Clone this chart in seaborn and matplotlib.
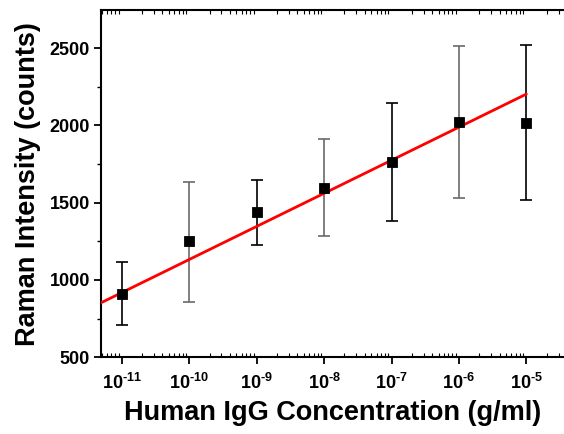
import numpy as np
import matplotlib
matplotlib.use("Agg")
import matplotlib.pyplot as plt
import seaborn as sns
from matplotlib.ticker import LogLocator, MultipleLocator, NullFormatter

# Veri
concentration = [1e-11, 1e-10, 1e-9, 1e-8, 1e-7, 1e-6, 1e-5]
intensity = [908, 1250, 1440, 1597, 1762, 2024, 2016]
err_low = [710, 860, 1228, 1282, 1378, 1532, 1515]
err_high = [1115, 1635, 1645, 1911, 2147, 2515, 2518]
bar_colors = ["black", "dimgray", "black", "dimgray", "black", "dimgray", "black"]

# Doğrusal fit: y = a + b*log10(x)
fit_a = 3272
fit_b = 214
fit_range = [10 ** -11.31, 1e-5]

x_ticks = [1e-11, 1e-10, 1e-9, 1e-8, 1e-7, 1e-6, 1e-5]
x_labels = [r"$\mathbf{10^{\text{-}11}}$", r"$\mathbf{10^{\text{-}10}}$", r"$\mathbf{10^{\text{-}9}}$",
            r"$\mathbf{10^{\text{-}8}}$", r"$\mathbf{10^{\text{-}7}}$", r"$\mathbf{10^{\text{-}6}}$",
            r"$\mathbf{10^{\text{-}5}}$"]
y_ticks = [500, 1000, 1500, 2000, 2500]

sns.set_style("white")
plt.rcParams["font.family"] = ["Liberation Sans", "DejaVu Sans"]
plt.rcParams["font.weight"] = "bold"
plt.rcParams["text.color"] = "black"
plt.rcParams["xtick.color"] = "black"
plt.rcParams["ytick.color"] = "black"
plt.rcParams["axes.labelcolor"] = "black"
plt.rcParams["mathtext.fontset"] = "custom"
plt.rcParams["mathtext.rm"] = "Liberation Sans:bold"
plt.rcParams["mathtext.bf"] = "Liberation Sans:bold"

fig = plt.figure(figsize=(5.64, 4.34), dpi=100)
ax = fig.add_axes([0.179, 0.177, 0.82, 0.8])

# Hata çubukları
for xi, yi, lo, hi, c in zip(concentration, intensity, err_low, err_high, bar_colors):
    ax.errorbar([xi], [yi], yerr=[[yi - lo], [hi - yi]], fmt="none",
                ecolor=c, elinewidth=1.2, capsize=4, capthick=1.2, zorder=2)

# Fit çizgisi
fit_x = np.logspace(np.log10(fit_range[0]), np.log10(fit_range[1]), 50)
fit_y = fit_a + fit_b * np.log10(fit_x)
sns.lineplot(x=fit_x, y=fit_y, color="red", linewidth=2, ax=ax, zorder=3)

# Noktalar
sns.scatterplot(x=concentration, y=intensity, marker="s", s=55, color="black",
                edgecolor="black", ax=ax, zorder=4)

ax.set_xscale("log")
ax.set_xlim(10 ** -11.31, 10 ** -4.45)
ax.set_ylim(500, 2746)
ax.set_xticks(x_ticks)
ax.set_xticklabels(x_labels, fontsize=13)
ax.xaxis.set_minor_locator(LogLocator(base=10, subs=np.arange(2, 10), numticks=20))
ax.xaxis.set_minor_formatter(NullFormatter())
ax.set_yticks(y_ticks)
ax.set_yticklabels([str(v) for v in y_ticks], fontsize=13, fontweight="bold")
ax.yaxis.set_minor_locator(MultipleLocator(250))

ax.tick_params(axis="x", which="major", direction="out", length=5, width=1.3,
               bottom=True, pad=6)
ax.tick_params(axis="y", which="major", direction="out", length=5, width=1.3,
               left=True, pad=3)
ax.tick_params(axis="x", which="minor", direction="in", length=3, width=0.8,
               bottom=True, top=True)
ax.tick_params(axis="y", which="minor", direction="out", length=3, width=1.0, left=True)

for side in ["left", "bottom", "top"]:
    ax.spines[side].set_linewidth(1.5)
    ax.spines[side].set_color("black")
ax.spines["right"].set_visible(False)

ax.set_xlabel("Human IgG Concentration (g/ml)", fontsize=19.5, fontweight="bold", labelpad=5)
ax.set_ylabel("Raman Intensity (counts)", fontsize=19.5, fontweight="bold", labelpad=6)

fig.savefig("out.png", dpi=100)
